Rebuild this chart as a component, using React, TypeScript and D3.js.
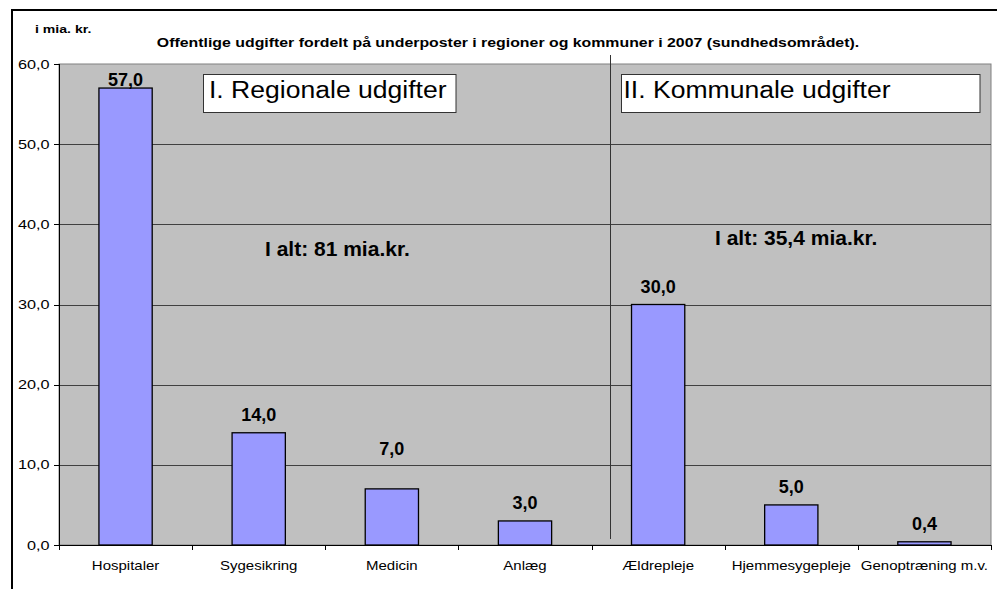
import React from "react";
import * as d3 from "d3";

const categories = ["Hospitaler", "Sygesikring", "Medicin", "Anlæg", "Ældrepleje", "Hjemmesygepleje", "Genoptræning m.v."];
const values = [57.0, 14.0, 7.0, 3.0, 30.0, 5.0, 0.4];
const yTicks = [0, 10, 20, 30, 40, 50, 60];
const groupTitles = ["I. Regionale udgifter", "II. Kommunale udgifter"];
const groupTotals = ["I alt: 81 mia.kr.", "I alt: 35,4 mia.kr."];
const unitLabel = "i mia. kr.";
const chartTitle = "Offentlige udgifter fordelt på underposter i regioner og kommuner i 2007 (sundhedsområdet).";

const W = 997;
const H = 589;
const margin = {top: 64, right: 6, bottom: 44, left: 59};
const FONT = "'Liberation Sans', Arial, sans-serif";

// label nudges that Excel had placed by hand
const labelNudge: Record<string, number> = {Medicin: -22};

const fmt = (v: number) => d3.format(".1f")(v).replace(".", ",");

type STProps = { x: number, y: number, sx?: number, anchor?: string, size: number, bold?: boolean, children: React.ReactNode };

function SText({x, y, sx = 1, anchor = "start", size, bold, children}: STProps) {
    return <text
        transform={`translate(${x},${y}) scale(${sx},1)`}
        textAnchor={anchor}
        fontFamily={FONT}
        fontSize={size}
        fontWeight={bold ? "bold" : "normal"}
        fill="#000"
    >{children}</text>;
}

export default function App() {
    const x0 = margin.left;
    const x1 = W - margin.right;
    const yB = H - margin.bottom;

    const x = d3.scaleBand<string>().domain(categories).range([x0, x1]).padding(0);
    const y = d3.scaleLinear().domain([0, 60]).range([yB, margin.top]);
    const barW = x.bandwidth() * 0.4;

    const bandEdges = categories.map((c) => x(c) ?? 0).concat([x1]);

    return (
        <svg width={W} height={H} style={{position: "absolute", left: 0, top: 0, background: "#fff"}}>
            <rect x={12} y={10} width={1000} height={600} fill="#fff" stroke="#000" strokeWidth={2}/>

            <SText x={35} y={33} size={11} sx={1.28} bold>{unitLabel}</SText>
            <SText x={508} y={47} size={13} sx={1.22} anchor="middle" bold>{chartTitle}</SText>

            <rect x={x0} y={margin.top} width={x1 - x0} height={yB - margin.top} fill="#C0C0C0" stroke="#808080" strokeWidth={1}/>

            {yTicks.filter((t) => t > 0 && t < 60).map((t) => (
                <line key={t} x1={x0} x2={x1} y1={Math.round(y(t)) + 0.5} y2={Math.round(y(t)) + 0.5} stroke="#404040" strokeWidth={1}/>
            ))}

            {/* y axis */}
            <line x1={x0 + 0.5} x2={x0 + 0.5} y1={margin.top} y2={yB} stroke="#000" strokeWidth={1}/>
            {yTicks.map((t) => (
                <g key={t}>
                    <line x1={x0 - 5} x2={x0} y1={Math.round(y(t)) + 0.5} y2={Math.round(y(t)) + 0.5} stroke="#000"/>
                    <SText x={49.5} y={y(t) + 4.5} size={12.5} sx={1.3} anchor="end">{fmt(t)}</SText>
                </g>
            ))}

            {/* divider between regions and municipalities */}
            <line x1={610.5} x2={610.5} y1={55} y2={539} stroke="#333" strokeWidth={1}/>

            {/* bars */}
            {categories.map((c, i) => {
                const cx = (x(c) ?? 0) + x.bandwidth() / 2;
                const top = y(values[i]);
                const ly = Math.max(top - 12, margin.top + 22) + (labelNudge[c] ?? 0);
                return (
                    <g key={c}>
                        <rect x={cx - barW / 2} y={top} width={barW} height={yB - top} fill="#9999FF" stroke="#000" strokeWidth={1.3}/>
                        <SText x={cx} y={ly} size={17.5} sx={1.03} anchor="middle" bold>{fmt(values[i])}</SText>
                        <SText x={cx} y={570} size={12.5} sx={1.2} anchor="middle">{c}</SText>
                    </g>
                );
            })}

            {/* x axis */}
            <line x1={x0} x2={x1} y1={yB + 0.5} y2={yB + 0.5} stroke="#000" strokeWidth={1.2}/>
            {bandEdges.map((e, i) => (
                <line key={i} x1={Math.round(e) + 0.5} x2={Math.round(e) + 0.5} y1={yB} y2={yB + 5} stroke="#000"/>
            ))}

            {/* text boxes */}
            <rect x={203.5} y={74.5} width={252.5} height={38} fill="#fff" stroke="#333" strokeWidth={1}/>
            <SText x={209} y={98} size={23.5} sx={1.13}>{groupTitles[0]}</SText>
            <rect x={621.5} y={74.5} width={358.5} height={38} fill="#fff" stroke="#333" strokeWidth={1}/>
            <SText x={623.5} y={98} size={23.5} sx={1.13}>{groupTitles[1]}</SText>

            <SText x={265} y={256} size={21} bold>{groupTotals[0]}</SText>
            <SText x={715} y={245} size={21} bold>{groupTotals[1]}</SText>
        </svg>
    );
}
